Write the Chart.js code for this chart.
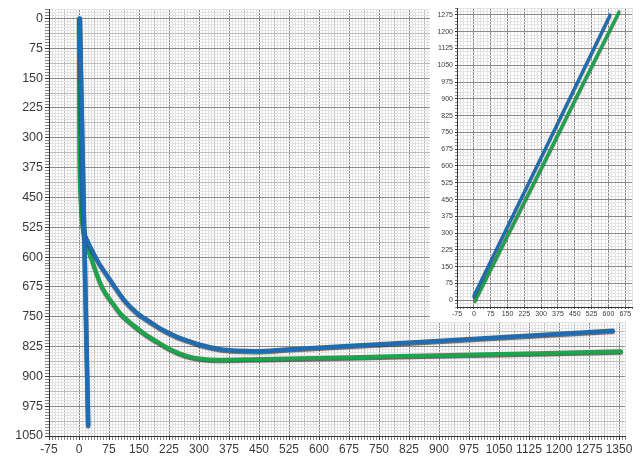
<!DOCTYPE html>
<html lang="en">
<head>
  <meta charset="UTF-8"/>
  <title>Load curves</title>
  <style>
    body { margin: 0; background: #fff; font-family: "Liberation Sans", Arial, sans-serif; }
    #wrap { position: relative; width: 643px; height: 458px; }
    #main { position: absolute; left: 0; top: 0; }
    #inset { position: absolute; left: 430px; top: 2px; background: #fff; }
  </style>
</head>
<body>
  <div id="wrap">
    <canvas id="main" width="643" height="458"></canvas>
    <canvas id="inset" width="208" height="320"></canvas>
  </div>

  <script src="https://cdn.jsdelivr.net/npm/chart.js"></script>

  <script>
  // main chart series (x, y; y axis runs downward)
  const blueLineX  = [2, 23];
  const blueLineY  = [0, 1022];
  const blueCurveX = [2, 5, 9, 13, 22, 35, 50, 70, 90, 115, 145, 177, 210, 245, 275, 302, 352, 400, 440, 520, 800, 1335];
  const blueCurveY = [0, 300, 470, 530, 560, 587, 615, 645, 675, 710, 740, 762, 783, 800, 811, 820, 831, 835, 836, 832, 816, 785];
  const greenX     = [0, 1, 4, 10, 20, 32, 42, 52, 66, 82, 105, 135, 165, 195, 225, 252, 280, 302, 352, 427, 800, 1355];
  const greenY     = [0, 300, 450, 530, 572, 605, 635, 662, 690, 712, 743, 770, 793, 812, 830, 842, 851, 855, 858, 857, 849, 837];

  // inset series
  const insetBlueX  = [0, 150, 300, 450, 607];
  const insetBlueY  = [21, 330, 640, 950, 1275];
  const insetGreenX = [5, 150, 320, 480, 647];
  const insetGreenY = [0, 290, 630, 955, 1290];

  const BLUE = '#1d6db5';
  const GREEN = '#1ba64c';

  const pts = (xs, ys) => xs.map((x, i) => ({x, y: ys[i]}));
  const isMult = (v, s) => Math.abs(v / s - Math.round(v / s)) < 1e-6;

  // dark drop shadow under the curves
  const shadow = {
    id: 'shadow',
    beforeDatasetDraw(chart) {
      const c = chart.ctx;
      c.save();
      c.shadowColor = 'rgba(40,40,40,0.7)';
      c.shadowOffsetY = 1.5;
      c.shadowBlur = 1;
    },
    afterDatasetDraw(chart) { chart.ctx.restore(); }
  };

  function paperAxis(min, max, step, major, mid, labelMax, font, pad, reverse) {
    return {
      type: 'linear', min, max, reverse,
      border: { color: '#333', width: 1 },
      grid: {
        lineWidth: 1,
        tickLength: 4,
        color: ctx => {
          const v = ctx.tick.value;
          if (isMult(v, major)) return '#8a8a8a';
          if (mid && isMult(v, mid)) return '#bcbcbc';
          return '#e3e3e3';
        },
        tickColor: ctx => isMult(ctx.tick.value, major) ? '#333' : '#888'
      },
      ticks: {
        stepSize: step,
        autoSkip: false,
        maxTicksLimit: 1000,
        maxRotation: 0, minRotation: 0,
        padding: pad,
        color: '#3a3a3a',
        font: font,
        callback: v => (isMult(v, major) && v <= labelMax && v >= -75) ? String(Math.round(v)) : ''
      }
    };
  }

  // main chart
  const xMain = paperAxis(-75, 1365, 7.5, 75, 37.5, 1350, { family: 'Liberation Sans', size: 12 }, 2, false);
  xMain.afterFit = s => { s.height = 22; };
  const yMain = paperAxis(-22.5, 1050, 7.5, 75, 37.5, 1050, { family: 'Liberation Sans', size: 12.5 }, 2, true);
  yMain.afterFit = s => { s.width = 49; };

  new Chart(document.getElementById('main'), {
    type: 'line',
    data: {
      datasets: [
        { data: pts(blueLineX, blueLineY), borderColor: BLUE, borderWidth: 4.5, order: 0 },
        { data: pts(blueCurveX, blueCurveY), borderColor: BLUE, borderWidth: 4, order: 1, cubicInterpolationMode: 'monotone' },
        { data: pts(greenX, greenY), borderColor: GREEN, borderWidth: 4, order: 2, cubicInterpolationMode: 'monotone' }
      ]
    },
    options: {
      responsive: false,
      animation: false,
      layout: { padding: { top: 6, right: 18, left: 0, bottom: 0 } },
      elements: { point: { radius: 0 }, line: { borderCapStyle: 'round', borderJoinStyle: 'round' } },
      plugins: { legend: { display: false }, tooltip: { enabled: false } },
      scales: { x: xMain, y: yMain }
    },
    plugins: [shadow]
  });

  // inset chart
  const xIn = paperAxis(-75, 705, 15, 75, null, 675, { family: 'Liberation Sans', size: 7 }, 1, false);
  xIn.afterFit = s => { s.height = 15; };
  xIn.grid.tickLength = 2;
  const yIn = paperAxis(-30, 1305, 15, 75, null, 1275, { family: 'Liberation Sans', size: 7 }, 2, false);
  yIn.afterFit = s => { s.width = 27; };
  yIn.grid.tickLength = 2;
  yIn.ticks.callback = v => (isMult(v, 75) && v >= 0 && v <= 1275) ? String(Math.round(v)) : '';

  new Chart(document.getElementById('inset'), {
    type: 'line',
    data: {
      datasets: [
        { data: pts(insetBlueX, insetBlueY), borderColor: BLUE, borderWidth: 3, order: 0 },
        { data: pts(insetGreenX, insetGreenY), borderColor: GREEN, borderWidth: 3, order: 1 }
      ]
    },
    options: {
      responsive: false,
      animation: false,
      layout: { padding: { top: 5, right: 6, left: 0, bottom: 0 } },
      elements: { point: { radius: 0 }, line: { borderCapStyle: 'round' } },
      plugins: { legend: { display: false }, tooltip: { enabled: false } },
      scales: { x: xIn, y: yIn }
    },
    plugins: [shadow]
  });
  </script>
</body>
</html>
